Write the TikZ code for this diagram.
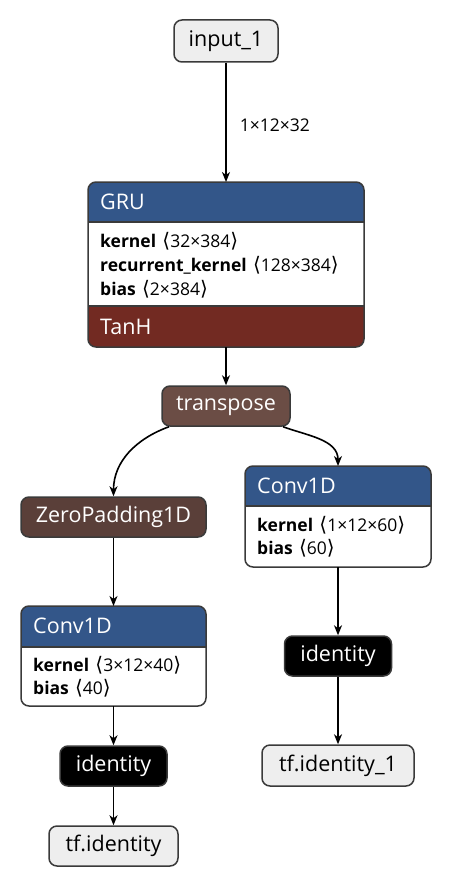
\documentclass[tikz,border=0pt]{standalone}
\usepackage{fontspec}
\setmainfont{Open Sans}
\newfontfamily\djv{DejaVu Sans}
\usetikzlibrary{arrows.meta,calc}
\definecolor{hdrblue}{HTML}{335689}
\definecolor{actred}{HTML}{722A22}
\definecolor{tpbrown}{HTML}{6B4D45}
\definecolor{zpbrown}{HTML}{5A3F39}
\definecolor{lightg}{HTML}{EEEEEE}
\definecolor{edgec}{HTML}{3A3A3A}
\newcommand{\shp}[1]{\hspace{0.1em}{\djv\fontsize{20}{20}\selectfont ⟨}#1{\djv\fontsize{20}{20}\selectfont ⟩}}
\tikzset{
  pill/.style={draw=edgec, line width=1.5pt, rounded corners=8pt, minimum height=40pt, inner sep=0pt, font=\fontsize{21.5}{24}\selectfont},
  lightpill/.style={pill, fill=lightg, text=black},
  tppill/.style={pill, fill=tpbrown, text=white},
  zppill/.style={pill, fill=zpbrown, text=white},
  idpill/.style={pill, fill=black, text=white},
  cbox/.style={inner sep=0pt, outer sep=0pt},
  frame/.style={draw=edgec, line width=1.5pt},
  hdr/.style={anchor=west, inner sep=0pt, text=white, font=\fontsize{21.5}{24}\selectfont},
  body/.style={anchor=west, inner sep=0pt, text=black, font=\fontsize{17.5}{20}\selectfont},
  conn/.style={-{Stealth[length=10pt,width=8pt,inset=3pt]}, line width=1.6pt, black},
  elabel/.style={anchor=west, inner sep=0pt, font=\fontsize{17.5}{20}\selectfont}
}
\begin{document}
\begin{tikzpicture}[x=1pt,y=-1pt]
\useasboundingbox (0,0) rectangle (452,888);

% input
\node[lightpill, minimum width=104pt, minimum height=42pt] (in1) at (226,41) {input\_1};

% GRU composite
\node[cbox, minimum width=276pt, minimum height=165pt] (gru) at (226,264.5) {};
\begin{scope}
\clip[rounded corners=8pt] (gru.north west) rectangle (gru.south east);
\fill[white] (gru.north west) rectangle (gru.south east);
\fill[hdrblue] (gru.north west) rectangle ($(gru.north east)+(0,40)$);
\fill[actred] ($(gru.south west)+(0,-41)$) rectangle (gru.south east);
\end{scope}
\draw[frame] ($(gru.north west)+(0,40)$) -- ($(gru.north east)+(0,40)$);
\draw[frame] ($(gru.south west)+(0,-41)$) -- ($(gru.south east)+(0,-41)$);
\draw[frame, rounded corners=8pt] (gru.north west) rectangle (gru.south east);
\node[hdr] (gru-t) at (100,202) {GRU};
\node[body] (gru-k) at (100,241) {\textbf{kernel} \shp{32×384}};
\node[body] (gru-r) at (100,265) {\textbf{recurrent\_kernel} \shp{128×384}};
\node[body] (gru-b) at (100,289) {\textbf{bias} \shp{2×384}};
\node[hdr] (gru-a) at (100,326.5) {TanH};

% transpose
\node[tppill, minimum width=128pt] (tr) at (226,406) {transpose};

% ZeroPadding1D
\node[zppill, minimum width=185pt] (zp) at (113.5,517) {ZeroPadding1D};

% right Conv1D
\node[cbox, minimum width=186pt, minimum height=101pt] (c2) at (338,516.5) {};
\begin{scope}
\clip[rounded corners=8pt] (c2.north west) rectangle (c2.south east);
\fill[white] (c2.north west) rectangle (c2.south east);
\fill[hdrblue] (c2.north west) rectangle ($(c2.north east)+(0,40)$);
\end{scope}
\draw[frame] ($(c2.north west)+(0,40)$) -- ($(c2.north east)+(0,40)$);
\draw[frame, rounded corners=8pt] (c2.north west) rectangle (c2.south east);
\node[hdr] (c2-t) at (257,486) {Conv1D};
\node[body] (c2-k) at (257,525) {\textbf{kernel} \shp{1×12×60}};
\node[body] (c2-b) at (257,548) {\textbf{bias} \shp{60}};

% left Conv1D
\node[cbox, minimum width=185pt, minimum height=100pt] (c1) at (113.5,656) {};
\begin{scope}
\clip[rounded corners=8pt] (c1.north west) rectangle (c1.south east);
\fill[white] (c1.north west) rectangle (c1.south east);
\fill[hdrblue] (c1.north west) rectangle ($(c1.north east)+(0,41)$);
\end{scope}
\draw[frame] ($(c1.north west)+(0,41)$) -- ($(c1.north east)+(0,41)$);
\draw[frame, rounded corners=8pt] (c1.north west) rectangle (c1.south east);
\node[hdr] (c1-t) at (33,626) {Conv1D};
\node[body] (c1-k) at (33,665) {\textbf{kernel} \shp{3×12×40}};
\node[body] (c1-b) at (33,688) {\textbf{bias} \shp{40}};

% identities and outputs
\node[idpill, minimum width=107pt] (id2) at (338,656) {identity};
\node[lightpill, minimum width=152pt, minimum height=41pt] (tfi1) at (338,765.5) {tf.identity\_1};
\node[idpill, minimum width=107pt] (id1) at (113.5,766) {identity};
\node[lightpill, minimum width=129pt] (tfi) at (113.5,846) {tf.identity};

% connectors
\draw[conn] (in1) -- (gru.north) node[elabel, pos=0.52, xshift=13pt] (lbl) {1×12×32};
\draw[conn] (gru.south) -- (tr);
\draw[conn] (tr.200) to[out=200, in=90] (zp.north);
\draw[conn] (tr.-20) to[out=-20, in=90] (c2.north);
\draw[conn] (zp) -- (c1.north);
\draw[conn] (c1.south) -- (id1);
\draw[conn] (id1) -- (tfi);
\draw[conn] (c2.south) -- (id2);
\draw[conn] (id2) -- (tfi1);
\end{tikzpicture}
\end{document}
